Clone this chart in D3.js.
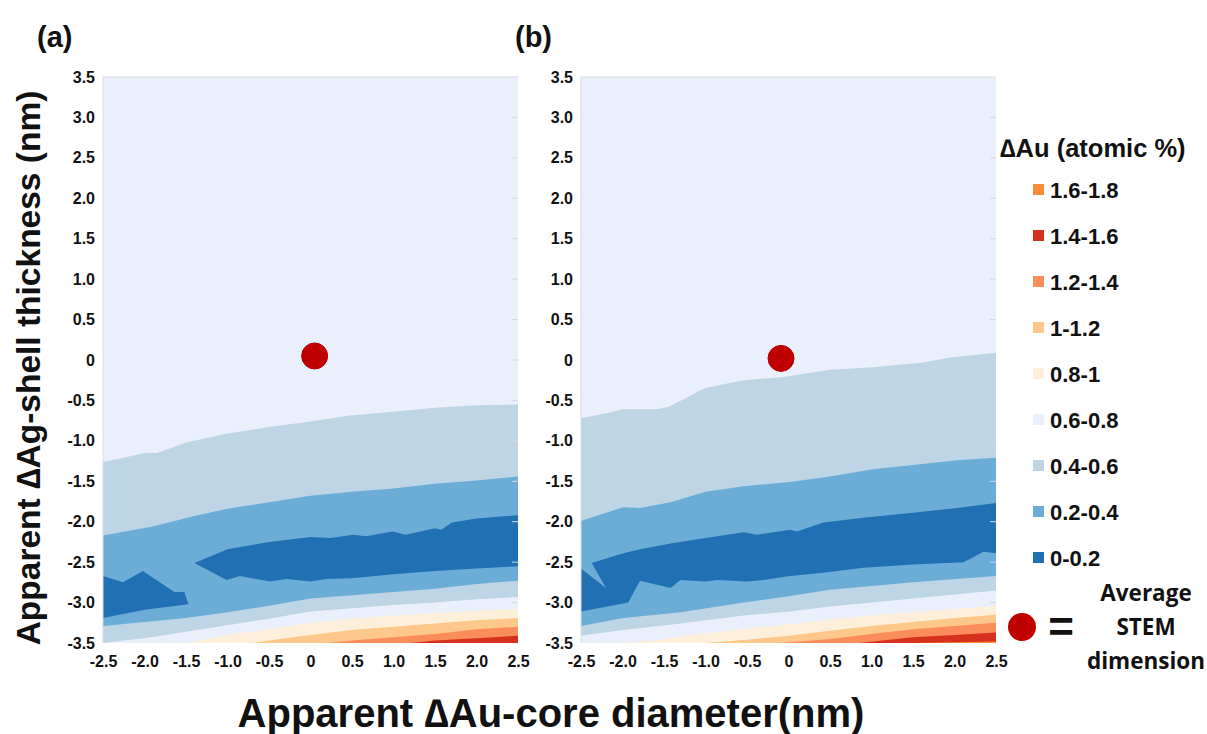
<!DOCTYPE html>
<html>
<head>
<meta charset="utf-8">
<script src="https://cdn.jsdelivr.net/npm/d3@7"></script>
<style>
  body { margin: 0; background: #fff; }
  svg text { font-family: "Liberation Sans", Arial, sans-serif; font-weight: bold; fill: #111; }
  .calibri { font-family: "Open Sans", "Liberation Sans", sans-serif; }
</style>
</head>
<body>
<svg id="chart"></svg>
<script>
// ---------- data ----------
const LEVELS = ['1.6-1.8', '1.4-1.6', '1.2-1.4', '1-1.2', '0.8-1', '0.6-0.8', '0.4-0.6', '0.2-0.4', '0-0.2'];
const LEVEL_COLORS = ['#f98b3b', '#d6311f', '#fb8c5b', '#fdc88a', '#fdefd9', '#eaeffc', '#bdd5e5', '#6badd6', '#2270b4'];

const X_TICKS = [-2.5, -2.0, -1.5, -1.0, -0.5, 0, 0.5, 1.0, 1.5, 2.0, 2.5];
const Y_TICKS = [3.5, 3.0, 2.5, 2.0, 1.5, 1.0, 0.5, 0, -0.5, -1.0, -1.5, -2.0, -2.5, -3.0, -3.5];

// panel (a): contour edges [core diameter, shell thickness]
const A_EDGE_04 = [[-2.5, -1.26], [-2.25, -1.21], [-2.0, -1.15], [-1.85, -1.15], [-1.5, -1.02], [-1.0, -0.91], [-0.5, -0.83], [0, -0.76], [0.45, -0.69], [1.0, -0.64], [1.5, -0.59], [2.0, -0.56], [2.5, -0.55]];
const A_EDGE_02 = [[-2.5, -2.17], [-1.9, -2.06], [-1.4, -1.93], [-1.0, -1.84], [-0.5, -1.76], [0, -1.68], [0.5, -1.63], [1.0, -1.59], [1.5, -1.53], [2.0, -1.49], [2.5, -1.44]];
const A_DARK1_TOP = [[-2.5, -2.67], [-2.26, -2.75], [-2.02, -2.61], [-1.64, -2.87], [-1.52, -2.87], [-1.47, -3.02]];
const A_DARK1_BOTTOM = [[-2.5, -3.19], [-2.0, -3.09], [-1.47, -3.02]];
const A_DARK2_TOP = [[-1.40, -2.51], [-1.0, -2.34], [-0.5, -2.25], [0, -2.19], [0.24, -2.2], [0.51, -2.16], [0.67, -2.18], [0.99, -2.12], [1.15, -2.16], [1.5, -2.08], [1.58, -2.1], [1.7, -2.01], [2.0, -1.96], [2.5, -1.92]];
const A_DARK2_BOTTOM = [[-1.40, -2.51], [-1.01, -2.72], [-0.85, -2.67], [-0.49, -2.74], [-0.29, -2.71], [0, -2.74], [0.19, -2.71], [0.5, -2.70], [1.0, -2.65], [1.5, -2.61], [2.0, -2.58], [2.5, -2.55]];
const A_EDGE_LOW_04 = [[-2.5, -3.29], [-2.0, -3.24], [-1.5, -3.19], [-1.0, -3.12], [-0.5, -3.04], [0, -2.95], [0.5, -2.91], [1.0, -2.87], [1.5, -2.83], [2.0, -2.77], [2.5, -2.73]];
const A_EDGE_LOW_06 = [[-2.5, -3.5], [-2.25, -3.47], [-2.0, -3.44], [-1.5, -3.36], [-1.0, -3.28], [-0.5, -3.2], [0, -3.11], [0.5, -3.07], [1.0, -3.03], [1.5, -3.0], [2.0, -2.96], [2.5, -2.93]];
const A_EDGE_08 = [[-2.5, -3.5], [-1.5, -3.5], [-1.3, -3.46], [-1.0, -3.40], [-0.5, -3.33], [0, -3.25], [0.5, -3.2], [1.0, -3.16], [1.5, -3.13], [2.0, -3.1], [2.5, -3.08]];
const A_EDGE_10 = [[-2.5, -3.5], [-0.7, -3.5], [-0.5, -3.47], [0, -3.40], [0.5, -3.34], [1.0, -3.3], [1.5, -3.26], [2.0, -3.22], [2.5, -3.19]];
const A_EDGE_12 = [[-2.5, -3.5], [0.2, -3.5], [0.5, -3.47], [1.0, -3.43], [1.5, -3.39], [2.0, -3.33], [2.5, -3.3]];
const A_EDGE_14 = [[-2.5, -3.5], [1.2, -3.5], [1.5, -3.47], [2.0, -3.44], [2.5, -3.41]];
const A_STEM = [0.05, 0.05];

// panel (b)
const B_EDGE_04 = [[-2.5, -0.72], [-2.15, -0.65], [-2.01, -0.61], [-1.59, -0.61], [-1.45, -0.58], [-1.27, -0.49], [-1.01, -0.35], [-0.83, -0.31], [-0.54, -0.25], [-0.06, -0.21], [0.5, -0.12], [1.02, -0.09], [1.62, -0.03], [1.95, 0.03], [2.5, 0.09]];
const B_EDGE_02 = [[-2.5, -1.99], [-1.99, -1.82], [-1.79, -1.83], [-1.42, -1.76], [-1.0, -1.63], [-0.54, -1.56], [0.02, -1.51], [0.5, -1.44], [1.02, -1.35], [1.5, -1.3], [2.03, -1.24], [2.5, -1.21]];
const B_DARK_TOP = [[-2.5, -2.58], [-2.2, -2.82], [-2.37, -2.51], [-1.99, -2.39], [-1.79, -2.34], [-1.42, -2.27], [-1.0, -2.2], [-0.54, -2.13], [-0.38, -2.16], [0.02, -2.1], [0.1, -2.12], [0.42, -2.01], [0.9, -1.95], [1.5, -1.89], [2.03, -1.83], [2.5, -1.77]];
const B_DARK_BOTTOM = [[-2.5, -3.11], [-1.99, -3.01], [-1.93, -3.0], [-1.79, -2.73], [-1.42, -2.82], [-1.3, -2.72], [-1.0, -2.74], [-0.86, -2.72], [-0.5, -2.74], [-0.3, -2.72], [0.02, -2.67], [0.42, -2.63], [0.9, -2.57], [1.5, -2.53], [2.11, -2.5], [2.35, -2.37], [2.5, -2.39]];
const B_EDGE_LOW_04 = [[-2.5, -3.29], [-1.99, -3.19], [-1.3, -3.12], [-0.54, -3.0], [0.02, -2.92], [0.5, -2.84], [1.5, -2.75], [2.5, -2.67]];
const B_EDGE_LOW_06 = [[-2.5, -3.41], [-1.99, -3.34], [-1.3, -3.26], [-0.54, -3.16], [0.02, -3.11], [0.5, -3.05], [1.5, -2.95], [2.5, -2.85]];
const B_EDGE_08 = [[-2.5, -3.5], [-2.0, -3.5], [-1.6, -3.47], [-1.3, -3.42], [-1.0, -3.38], [-0.5, -3.32], [0, -3.27], [0.5, -3.21], [1.0, -3.16], [1.5, -3.12], [2.0, -3.08], [2.5, -3.04]];
const B_EDGE_10 = [[-2.5, -3.5], [-1.0, -3.5], [-0.5, -3.46], [0, -3.41], [0.5, -3.35], [1.0, -3.29], [1.5, -3.24], [2.0, -3.19], [2.5, -3.15]];
const B_EDGE_12 = [[-2.5, -3.5], [-0.1, -3.5], [0.5, -3.45], [1.0, -3.39], [1.5, -3.33], [2.0, -3.29], [2.5, -3.25]];
const B_EDGE_14 = [[-2.5, -3.5], [0.85, -3.5], [1.5, -3.43], [2.0, -3.4], [2.5, -3.37]];
const B_EDGE_16 = [[-2.5, -3.5], [1.5, -3.5], [2.0, -3.49], [2.5, -3.48]];
const B_STEM = [-0.09, 0.02];

const PANELS = [
  {
    label: '(a)', stem: A_STEM,
    layers: [
      {level: '0.4-0.6', edge: A_EDGE_04},
      {level: '0.2-0.4', edge: A_EDGE_02},
      {level: '0-0.2', top: A_DARK1_TOP, bottom: A_DARK1_BOTTOM},
      {level: '0-0.2', top: A_DARK2_TOP, bottom: A_DARK2_BOTTOM},
      {level: '0.4-0.6', edge: A_EDGE_LOW_04},
      {level: '0.6-0.8', edge: A_EDGE_LOW_06},
      {level: '0.8-1', edge: A_EDGE_08},
      {level: '1-1.2', edge: A_EDGE_10},
      {level: '1.2-1.4', edge: A_EDGE_12},
      {level: '1.4-1.6', edge: A_EDGE_14}
    ]
  },
  {
    label: '(b)', stem: B_STEM,
    layers: [
      {level: '0.4-0.6', edge: B_EDGE_04},
      {level: '0.2-0.4', edge: B_EDGE_02},
      {level: '0-0.2', top: B_DARK_TOP, bottom: B_DARK_BOTTOM},
      {level: '0.4-0.6', edge: B_EDGE_LOW_04},
      {level: '0.6-0.8', edge: B_EDGE_LOW_06},
      {level: '0.8-1', edge: B_EDGE_08},
      {level: '1-1.2', edge: B_EDGE_10},
      {level: '1.2-1.4', edge: B_EDGE_12},
      {level: '1.4-1.6', edge: B_EDGE_14},
      {level: '1.6-1.8', edge: B_EDGE_16}
    ]
  }
];

// ---------- layout ----------
const WIDTH = 1207, HEIGHT = 734;
const PLOT_TOP = 77, PLOT_BOTTOM = 643;
const PLOT_LEFTS = [103, 581];
const PLOT_W = 415;

const color = d3.scaleOrdinal().domain(LEVELS).range(LEVEL_COLORS);
const fmt = d => d === 0 ? '0' : d.toFixed(1);

const svg = d3.select('#chart').attr('width', WIDTH).attr('height', HEIGHT);

PANELS.forEach((panel, i) => {
  const left = PLOT_LEFTS[i];
  const x = d3.scaleLinear().domain([-2.5, 2.5]).range([left, left + PLOT_W]);
  const y = d3.scaleLinear().domain([-3.5, 3.5]).range([PLOT_BOTTOM, PLOT_TOP]);

  const g = svg.append('g');
  const clipId = 'clip' + i;
  g.append('clipPath').attr('id', clipId)
    .append('rect')
    .attr('x', left).attr('y', PLOT_TOP)
    .attr('width', PLOT_W).attr('height', PLOT_BOTTOM - PLOT_TOP);

  const plot = g.append('g').attr('clip-path', `url(#${clipId})`);

  // whole area starts as 0.6-0.8
  plot.append('rect')
    .attr('x', left).attr('y', PLOT_TOP)
    .attr('width', PLOT_W).attr('height', PLOT_BOTTOM - PLOT_TOP)
    .attr('fill', color('0.6-0.8'));

  const areaDown = d3.area()
    .x(d => x(d[0]))
    .y0(y(-3.5) + 2)
    .y1(d => y(d[1]));
  const ring = d3.line().x(d => x(d[0])).y(d => y(d[1]));

  panel.layers.forEach(layer => {
    if (layer.edge) {
      plot.append('path')
        .attr('d', areaDown(layer.edge))
        .attr('fill', color(layer.level));
    } else {
      const pts = layer.top.concat(layer.bottom.slice().reverse());
      plot.append('path')
        .attr('d', ring(pts) + 'Z')
        .attr('fill', color(layer.level));
    }
  });

  // faint frame on top/left and tiny marks on the right edge
  g.append('line').attr('x1', left).attr('x2', left + PLOT_W)
    .attr('y1', PLOT_TOP).attr('y2', PLOT_TOP).attr('stroke', '#d9dbe0').attr('stroke-width', 1);
  g.append('line').attr('x1', left).attr('x2', left)
    .attr('y1', PLOT_TOP).attr('y2', PLOT_BOTTOM).attr('stroke', '#d9dbe0').attr('stroke-width', 1);
  g.selectAll('.rmark').data(Y_TICKS.slice(1, -1)).enter().append('line')
    .attr('x1', left + PLOT_W - 6).attr('x2', left + PLOT_W)
    .attr('y1', d => y(d)).attr('y2', d => y(d))
    .attr('stroke', '#d3d8e4').attr('stroke-width', 1);

  // STEM point
  g.append('circle')
    .attr('cx', x(panel.stem[0])).attr('cy', y(panel.stem[1]))
    .attr('r', 13).attr('fill', '#c00000').attr('stroke', '#b00000').attr('stroke-width', 1);

  // axes
  const ya = g.append('g').attr('transform', `translate(${left},0)`)
    .call(d3.axisLeft(y).tickValues(Y_TICKS).tickFormat(fmt).tickSize(0).tickPadding(8));
  ya.select('.domain').remove();
  ya.selectAll('text').style('font-size', '16px').style('font-family', '"Liberation Sans", Arial, sans-serif').style('font-weight', 'bold').attr('fill', '#111');

  const xa = g.append('g').attr('transform', `translate(0,${PLOT_BOTTOM})`)
    .call(d3.axisBottom(x).tickValues(X_TICKS).tickFormat(fmt).tickSize(0).tickPadding(13));
  xa.select('.domain').remove();
  xa.selectAll('text').style('font-size', '16px').style('font-family', '"Liberation Sans", Arial, sans-serif').style('font-weight', 'bold').attr('fill', '#111');

  // panel label
  svg.append('text')
    .attr('x', left - 66).attr('y', 47)
    .style('font-size', '29px')
    .text(panel.label);
});

// axis titles
svg.append('text')
  .attr('transform', 'translate(40,368) rotate(-90)')
  .attr('text-anchor', 'middle')
  .style('font-size', '33.5px')
  .text('Apparent \u2206Ag-shell thickness (nm)');

svg.append('text')
  .attr('x', 551).attr('y', 727)
  .attr('text-anchor', 'middle')
  .style('font-size', '40px')
  .text('Apparent \u2206Au-core diameter(nm)');

// legend
const legend = svg.append('g');
legend.append('text')
  .attr('x', 1000).attr('y', 157)
  .style('font-size', '25.5px')
  .text('\u2206Au (atomic %)');

const items = legend.selectAll('.item').data(LEVELS).enter().append('g')
  .attr('transform', (d, i) => `translate(1033,${190 + i * 46})`);
items.append('rect')
  .attr('x', 0).attr('y', -6).attr('width', 11).attr('height', 11)
  .attr('fill', d => color(d));
items.append('text')
  .attr('x', 17).attr('y', 8)
  .style('font-size', '22px')
  .text(d => d);

legend.append('circle')
  .attr('cx', 1022).attr('cy', 627).attr('r', 14)
  .attr('fill', '#c00000');
legend.append('text')
  .attr('x', 1061).attr('y', 642)
  .attr('text-anchor', 'middle')
  .style('font-size', '44px')
  .text('=');
legend.append('text')
  .attr('class', 'calibri')
  .attr('text-anchor', 'middle')
  .selectAll('tspan').data(['Average', 'STEM', 'dimension']).enter().append('tspan')
  .attr('x', 1146).attr('y', (d, i) => 601 + i * 34)
  .style('font-size', '22.5px')
  .text(d => d);
</script>
</body>
</html>
